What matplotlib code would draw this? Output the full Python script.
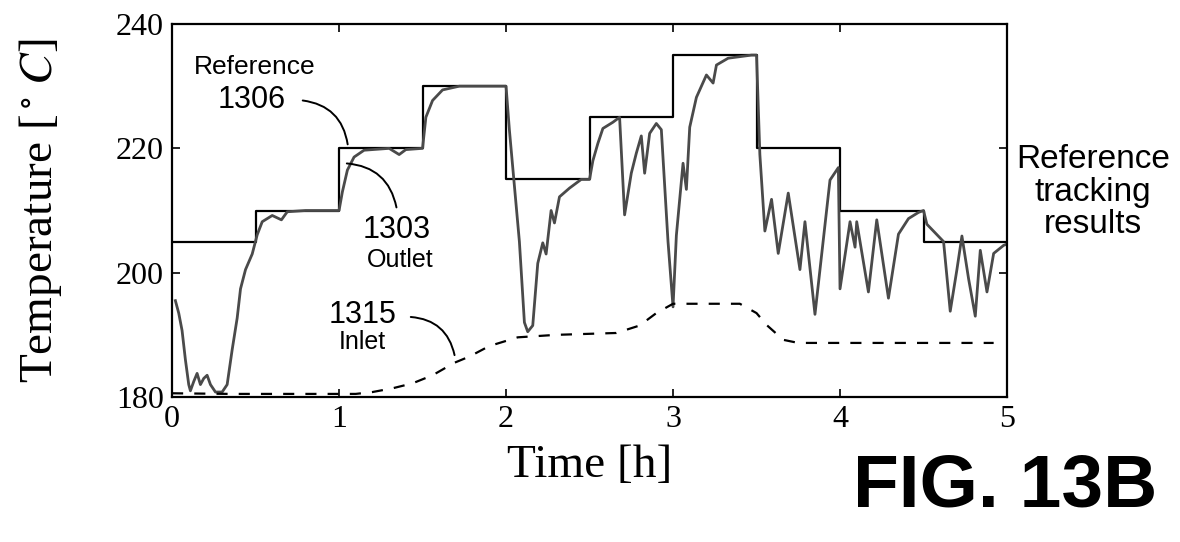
from matplotlib import pyplot as plt

# reference set-point steps (hours, degC)
ref_t = [0.0, 0.5, 1.0, 1.5, 2.0, 2.5, 3.0, 3.5, 4.0, 4.5, 5.0]
ref_v = [205, 210, 220, 230, 215, 225, 235, 220, 210, 205, 205]

out_t = [0.02, 0.04, 0.06, 0.08, 0.10, 0.11, 0.13, 0.15, 0.17, 0.19, 0.21, 0.23,
         0.26, 0.30, 0.33, 0.36, 0.39, 0.41, 0.44, 0.48, 0.51, 0.54, 0.60, 0.655,
         0.69, 0.80, 1.00, 1.02, 1.05, 1.09, 1.15, 1.30, 1.36, 1.40, 1.50, 1.52,
         1.56, 1.62, 1.72, 2.00, 2.02, 2.05, 2.08, 2.11, 2.13, 2.16, 2.19, 2.22,
         2.24, 2.27, 2.29, 2.32, 2.38, 2.45, 2.50, 2.52, 2.55, 2.58, 2.64, 2.68,
         2.71, 2.75, 2.78, 2.81, 2.83, 2.86, 2.90, 2.93, 2.97, 3.00, 3.02, 3.06,
         3.08, 3.10, 3.14, 3.20, 3.24, 3.26, 3.33, 3.47, 3.50, 3.52, 3.55, 3.59,
         3.63, 3.69, 3.76, 3.79, 3.85, 3.94, 3.99, 4.00, 4.06, 4.09, 4.10, 4.17,
         4.22, 4.29, 4.35, 4.41, 4.47, 4.50, 4.52, 4.62, 4.66, 4.70, 4.73, 4.77,
         4.81, 4.84, 4.88, 4.92, 4.98, 5.00]
out_v = [195.5, 193.5, 190.7, 186.0, 182.0, 181.0, 182.5, 183.8, 182.0, 183.0, 183.5, 182.0,
         180.8, 180.8, 182.0, 187.6, 192.7, 197.4, 200.5, 203.0, 206.1, 208.2, 209.2, 208.5,
         209.8, 210.0, 210.0, 213.0, 216.5, 218.6, 219.7, 220.0, 219.0, 219.8, 220.0, 225.0,
         227.7, 229.4, 230.0, 230.0, 223.0, 214.0, 205.0, 192.0, 190.5, 191.5, 201.5, 204.8,
         203.0, 210.0, 208.0, 212.2, 213.6, 215.0, 215.0, 218.0, 220.8, 223.2, 224.2, 225.0,
         209.3, 216.0, 219.2, 222.0, 216.0, 222.4, 224.0, 223.0, 205.0, 194.5, 206.0, 217.6,
         213.4, 223.4, 228.2, 231.8, 230.5, 233.4, 234.5, 235.0, 235.0, 219.0, 206.7, 211.8,
         203.1, 212.8, 200.5, 208.2, 193.3, 214.9, 216.9, 197.4, 208.2, 204.1, 208.2, 196.9,
         208.5, 195.9, 206.2, 208.7, 209.7, 210.0, 207.8, 205.0, 193.8, 200.5, 205.9, 199.0,
         193.0, 203.6, 196.9, 203.1, 204.4, 204.6]

# inlet temperature (dashed)
in_t = [0.0, 0.35, 1.10, 1.20, 1.32, 1.44, 1.56, 1.69, 1.78, 1.90, 2.07, 2.30,
        2.66, 2.80, 2.90, 3.00, 3.40, 3.50, 3.56, 3.66, 3.75, 4.92]
in_v = [180.6, 180.5, 180.5, 180.8, 181.4, 182.2, 183.5, 185.5, 186.5, 188.2, 189.6, 190.0,
        190.3, 191.5, 193.5, 195.0, 195.0, 193.5, 191.6, 189.2, 188.7, 188.7]

xticks = [0, 1, 2, 3, 4, 5]
yticks = [180, 200, 220, 240]


def main():
    plt.rcParams['mathtext.fontset'] = 'stix'
    fig = plt.figure(figsize=(11.8, 5.42), dpi=100)
    ax = fig.add_axes([0.1458, 0.2675, 0.7076, 0.6882])

    ax.step(ref_t, ref_v, where='post', color='black', linewidth=1.6)
    ax.plot(out_t, out_v, color='#4a4a4a', linewidth=2.0)
    ax.plot(in_t, in_v, color='black', linewidth=1.6, linestyle=(0, (5, 5)))

    ax.set_xlim(0, 5)
    ax.set_ylim(180, 240)
    ax.set_xticks(xticks)
    ax.set_yticks(yticks)
    ax.set_xticklabels([str(v) for v in xticks], family='Liberation Serif', fontsize=23)
    ax.set_yticklabels([str(v) for v in yticks], family='Liberation Serif', fontsize=23)
    ax.tick_params(direction='in', length=6, width=1.2, top=True, right=True, pad=6)
    for s in ax.spines.values():
        s.set_linewidth(1.6)

    ax.set_xlabel('Time [h]', family='Liberation Serif', fontsize=34)
    ax.xaxis.label.set_va('center')
    ax.xaxis.set_label_coords(0.5, -0.183)
    ax.set_ylabel(r'Temperature [$^\circ\,C$]', family='Liberation Serif', fontsize=34)
    ax.yaxis.label.set_va('center')
    ax.yaxis.set_label_coords(-0.158, 0.5)

    sans = 'Liberation Sans'
    ax.text(0.497, 233.05, 'Reference', family=sans, fontsize=19, ha='center', va='center')
    ax.text(0.479, 227.75, '1306', family=sans, fontsize=22, ha='center', va='center')
    ax.annotate('', xy=(1.054, 220.2), xytext=(0.766, 227.75),
                arrowprops=dict(arrowstyle='-', color='black', lw=1.4,
                                connectionstyle='arc3,rad=-0.4'))

    ax.text(1.347, 206.85, '1303', family=sans, fontsize=22, ha='center', va='center')
    ax.text(1.365, 202.0, 'Outlet', family=sans, fontsize=18, ha='center', va='center')
    ax.annotate('', xy=(1.03, 217.6), xytext=(1.347, 210.06),
                arrowprops=dict(arrowstyle='-', color='black', lw=1.4,
                                connectionstyle='arc3,rad=0.4'))

    ax.text(1.138, 193.2, '1315', family=sans, fontsize=22, ha='center', va='center')
    ax.text(1.138, 188.8, 'Inlet', family=sans, fontsize=18, ha='center', va='center')
    ax.annotate('', xy=(1.695, 186.3), xytext=(1.413, 192.9),
                arrowprops=dict(arrowstyle='-', color='black', lw=1.4,
                                connectionstyle='arc3,rad=-0.4'))

    fig.text(1093 / 1180, 1 - 192 / 542, 'Reference\ntracking\nresults', family=sans,
             fontsize=24, ha='center', va='center', linespacing=1.05)
    fig.text(1005 / 1180, 1 - 487 / 542, 'FIG. 13B', family=sans, fontweight='bold',
             fontsize=54, ha='center', va='center')

    fig.savefig('out.png', dpi=100)


if __name__ == "__main__":
    main()
